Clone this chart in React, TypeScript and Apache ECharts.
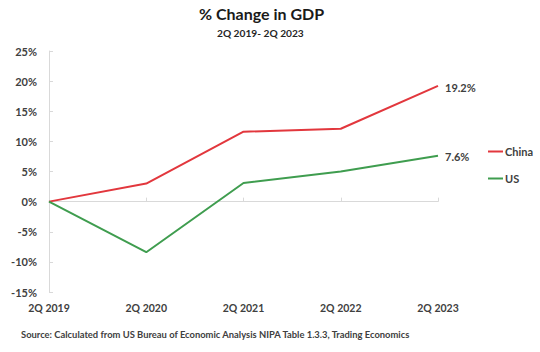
import React, { useEffect, useRef } from "react";
import * as echarts from "echarts";

const categories = ["2Q 2019", "2Q 2020", "2Q 2021", "2Q 2022", "2Q 2023"];
const chinaValues = [0, 3.0, 11.6, 12.1, 19.2];
const usValues = [0, -8.4, 3.1, 5.0, 7.6];
const yTicks = { min: -15, max: 25, interval: 5 };

const FONT = "Lato, 'Open Sans', sans-serif";
const TEXT = "#404040";

const endLabel = {
  show: true,
  distance: 7,
  formatter: (p: any) => `${p.value}%`,
  fontFamily: FONT,
  fontWeight: "bold",
  fontSize: 11,
  color: TEXT,
};

export default function App() {
  const ref = useRef<HTMLDivElement>(null);
  useEffect(() => {
    if (!ref.current) return;
    const chart = echarts.init(ref.current, undefined, { renderer: "svg" });
    chart.setOption({
      animation: false,
      backgroundColor: "#ffffff",
      textStyle: { fontFamily: FONT },
      title: [
        {
          text: "% Change in GDP",
          left: 199,
          top: 5,
          padding: 0,
          textStyle: { fontFamily: FONT, fontWeight: "bold", fontSize: 16, color: "#1a1a1a" },
        },
        {
          text: "2Q 2019- 2Q 2023",
          left: 217,
          top: 28,
          padding: 0,
          textStyle: { fontFamily: FONT, fontWeight: "bold", fontSize: 10.2, color: "#262626" },
        },
        {
          text: "Source: Calculated from US Bureau of Economic Analysis NIPA Table 1.3.3, Trading Economics",
          left: 21,
          top: 330,
          padding: 0,
          textStyle: { fontFamily: FONT, fontWeight: "bold", fontSize: 9.4, color: TEXT },
        },
      ],
      legend: {
        orient: "vertical",
        left: 488,
        top: 146,
        padding: 0,
        itemGap: 16,
        itemWidth: 15,
        itemHeight: 2,
        icon: "rect",
        textStyle: { fontFamily: FONT, fontWeight: "bold", fontSize: 11, color: TEXT, padding: [0, 0, 0, -3] },
        data: ["China", "US"],
      },
      grid: { left: 49, right: 102, top: 51, bottom: 60, containLabel: false },
      xAxis: [
        {
          type: "category",
          data: categories,
          boundaryGap: false,
          position: "bottom",
          axisLine: { show: false, onZero: false },
          axisTick: { show: false },
          axisLabel: {
            fontFamily: FONT,
            fontWeight: "bold",
            fontSize: 10.5,
            color: TEXT,
            margin: 10,
          },
        },
        {
          type: "category",
          data: categories,
          boundaryGap: false,
          position: "bottom",
          axisLine: { show: true, onZero: true, lineStyle: { color: "#d9d9d9", width: 1 } },
          axisTick: { show: true, inside: true, length: 4, lineStyle: { color: "#d9d9d9" } },
          axisLabel: { show: false },
        },
      ],
      yAxis: {
        type: "value",
        min: yTicks.min,
        max: yTicks.max,
        interval: yTicks.interval,
        axisLine: { show: true, lineStyle: { color: "#d9d9d9", width: 1 } },
        axisTick: { show: true, inside: true, length: 4, lineStyle: { color: "#d9d9d9" } },
        splitLine: { show: false },
        axisLabel: {
          formatter: "{value}%",
          fontFamily: FONT,
          fontWeight: "bold",
          fontSize: 11,
          color: TEXT,
          margin: 12,
        },
      },
      series: [
        {
          name: "China",
          type: "line",
          xAxisIndex: 0,
          data: chinaValues,
          symbol: "none",
          lineStyle: { color: "#e2373d", width: 2 },
          itemStyle: { color: "#e2373d" },
          endLabel: { ...endLabel, offset: [0, 2] },
        },
        {
          name: "US",
          type: "line",
          xAxisIndex: 0,
          data: usValues,
          symbol: "none",
          lineStyle: { color: "#3f9d4f", width: 2 },
          itemStyle: { color: "#3f9d4f" },
          endLabel: { ...endLabel, offset: [0, 1] },
        },
      ],
    });
    return () => chart.dispose();
  }, []);
  return <div ref={ref} style={{ width: 540, height: 352, position: "absolute", left: 0, top: 0 }} />;
}
